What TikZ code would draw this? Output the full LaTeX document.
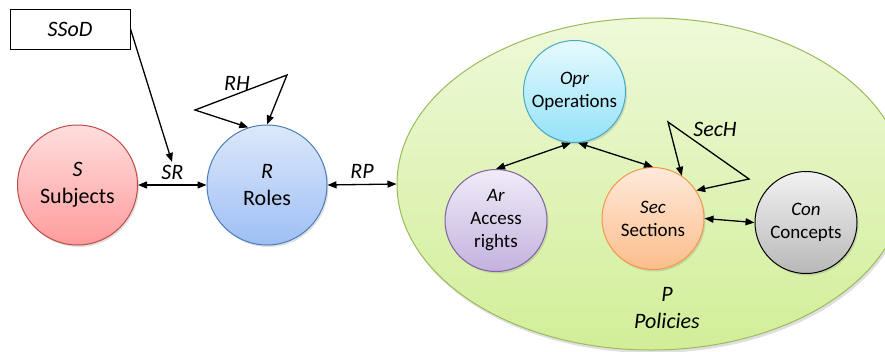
\documentclass[tikz,border=0pt]{standalone}
\usepackage{fontspec}
\setmainfont{Carlito}
\usetikzlibrary{arrows.meta,shapes.geometric,shadows}
\definecolor{sTop}{HTML}{FFDEDE}\definecolor{sBot}{HTML}{FF9C9C}\definecolor{sLine}{HTML}{BE4B48}
\definecolor{rTop}{HTML}{DDE8FA}\definecolor{rBot}{HTML}{9EBFF5}\definecolor{rLine}{HTML}{4A7EBB}
\definecolor{oTop}{HTML}{E6FAFF}\definecolor{oBot}{HTML}{94E2F8}\definecolor{oLine}{HTML}{46AAC5}
\definecolor{aTop}{HTML}{F1EBF7}\definecolor{aBot}{HTML}{C3B2DE}\definecolor{aLine}{HTML}{7E62A1}
\definecolor{cTop}{HTML}{FFEADB}\definecolor{cBot}{HTML}{FBBD8C}\definecolor{cLine}{HTML}{F79646}
\definecolor{gTop}{HTML}{F2F2F2}\definecolor{gBot}{HTML}{B8B8B8}\definecolor{gLine}{HTML}{000000}
\definecolor{pTop}{HTML}{EEF9D9}\definecolor{pBot}{HTML}{D2EE98}\definecolor{pLine}{HTML}{9BBB59}
\tikzset{
  bigcirc/.style={circle,draw=#1Line,line width=1pt,top color=#1Top,bottom color=#1Bot,
     minimum size=120pt,inner sep=0pt,align=center,font=\fontsize{22}{27}\selectfont,
     drop shadow={shadow xshift=1.5pt,shadow yshift=-2pt,opacity=0.25}},
  smallcirc/.style={circle,draw=#1Line,line width=1pt,top color=#1Top,bottom color=#1Bot,
     minimum size=102pt,inner sep=0pt,align=center,font=\fontsize{19}{23}\selectfont,
     drop shadow={shadow xshift=1.5pt,shadow yshift=-2pt,opacity=0.25}},
  lbl/.style={font=\fontsize{22}{27}\selectfont\itshape,inner sep=0pt},
  conn/.style={line width=1.3pt,-{Triangle[length=9pt,width=7pt]}},
  dconn/.style={line width=1.3pt,{Triangle[length=9pt,width=7pt]}-{Triangle[length=9pt,width=7pt]}},
  plain/.style={line width=1.3pt},
}
\begin{document}
\begin{tikzpicture}[x=1pt,y=-1pt]
\useasboundingbox (0,0) rectangle (885,351);
\clip (0,0) rectangle (885,351);
% Policies ellipse
\node[ellipse,draw=pLine,line width=1pt,top color=pTop,bottom color=pBot,
      minimum width=508pt,minimum height=332pt,inner sep=0pt,
      drop shadow={shadow xshift=1.5pt,shadow yshift=-3pt,opacity=0.25}] (P) at (651,184) {};
\node[lbl,align=center,font=\fontsize{22}{27}\selectfont\itshape] (Plbl) at (667,308) {P\\Policies};
% main circles
\node[bigcirc=s] (S) at (77.5,185) {\textit{S}\\Subjects};
\node[bigcirc=r] (R) at (267,185) {\textit{R}\\Roles};
\node[smallcirc=o] (Opr) at (574.5,91.5) {\textit{Opr}\\Operations};
\node[smallcirc=a] (Ar) at (496,220.5) {\textit{Ar}\\Access\\rights};
\node[smallcirc=c] (Sec) at (653,218.5) {\textit{Sec}\\Sections};
\node[smallcirc=g] (Con) at (806,222.5) {\textit{Con}\\Concepts};
% SSoD box
\node[draw,line width=1pt,fill=white,minimum width=120pt,minimum height=40pt,inner sep=0pt,
      font=\fontsize{22}{27}\selectfont\itshape] (SSoD) at (70,29) {SSoD};
\coordinate (srTip) at (172,162);
\draw[conn] (SSoD.east) -- (srTip);
% connectors
\draw[dconn] (S.east) -- node[lbl,above=5pt] (SRl) {SR} (R.west);
\draw[dconn] (R.east) -- node[lbl,above=5pt] (RPl) {RP} (P.west);
% RH self loop
\coordinate (rh1) at (195,110);
\coordinate (rh2) at (287,75);
\draw[plain,{Triangle[length=9pt,width=7pt]}-{Triangle[length=9pt,width=7pt]}]
   (R.108) -- (rh1) -- (rh2) -- (R.90);
\node[lbl] (RHl) at (237,83) {RH};
% policy internals
\draw[dconn] (Opr.266) -- (Ar.90);
\draw[dconn] (Opr.274) -- (Sec.90);
\draw[dconn] (Sec.east) -- (Con.west);
\coordinate (sh1) at (668,122);
\coordinate (sh2) at (749,179);
\draw[plain,{Triangle[length=9pt,width=7pt]}-{Triangle[length=9pt,width=7pt]}]
   (Sec.56) -- (sh1) -- (sh2) -- (Sec.33);
\node[lbl] (SecHl) at (715,129) {SecH};
\end{tikzpicture}
\end{document}
